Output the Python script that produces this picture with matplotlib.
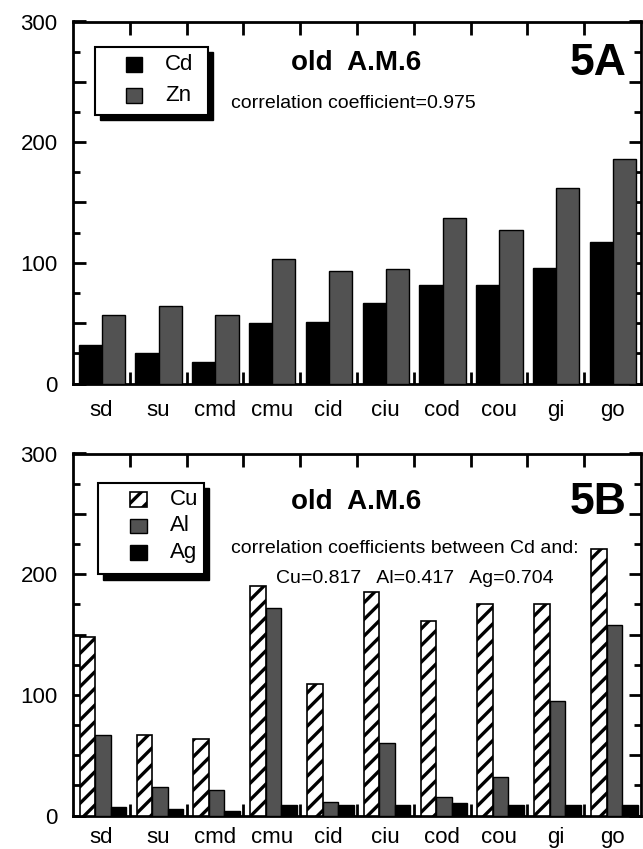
import matplotlib
matplotlib.use("Agg")
import matplotlib.pyplot as plt
from matplotlib.patches import Rectangle
from matplotlib.ticker import MultipleLocator, FixedLocator, NullFormatter, FuncFormatter
import numpy as np

plt.rcParams['font.family'] = ['Liberation Sans', 'DejaVu Sans']
plt.rcParams['hatch.linewidth'] = 2.4

categories = ["sd", "su", "cmd", "cmu", "cid", "ciu", "cod", "cou", "gi", "go"]

# Panel 5A
cd = [32, 25, 18, 50, 51, 67, 82, 82, 96, 117]
zn = [57, 64, 57, 103, 93, 95, 137, 127, 162, 186]

# Panel 5B
cu = [148, 67, 63, 190, 109, 185, 161, 175, 175, 221]
al = [67, 24, 21, 172, 11, 60, 15, 32, 95, 158]
ag = [7, 5.5, 4, 8.5, 9, 9, 10, 9, 9, 9]

ylabel_step = 100

BLACK = dict(facecolor="black", edgecolor="black", linewidth=1.0)
GRAY = dict(facecolor="#525252", edgecolor="black", linewidth=1.0)
HATCH = dict(facecolor="white", edgecolor="black", linewidth=1.2, hatch="//")

fig = plt.figure(figsize=(6.43, 8.49), dpi=100)
W = 643.0
H = 849.0
axA = fig.add_axes([73 / W, 1 - 383.5 / H, 568 / W, 362 / H])
axB = fig.add_axes([73 / W, 1 - 815.5 / H, 568 / W, 362 / H])

x = np.arange(len(categories))


def ylab(v, pos):
    return "%d" % v if abs(v % ylabel_step) < 1e-6 else ""


def style_axis(ax, xpad):
    ax.set_xlim(0, len(categories))
    ax.set_ylim(0, 300)
    for s in ax.spines.values():
        s.set_linewidth(2.0)
        s.set_color("black")
    ax.yaxis.set_major_locator(MultipleLocator(50))
    ax.yaxis.set_major_formatter(FuncFormatter(ylab))
    ax.yaxis.set_minor_locator(MultipleLocator(25))
    ax.tick_params(axis="y", which="major", direction="in", length=9, width=2,
                   labelsize=16, pad=11, left=True, right=True)
    ax.tick_params(axis="y", which="minor", direction="in", length=5, width=2,
                   left=True, right=True)
    ax.xaxis.set_major_locator(FixedLocator(np.arange(1, len(categories))))
    ax.xaxis.set_major_formatter(NullFormatter())
    ax.xaxis.set_minor_locator(FixedLocator(x + 0.5))
    ax.set_xticklabels(categories, minor=True)
    ax.tick_params(axis="x", which="major", direction="in", length=9, width=2,
                   top=True, bottom=True)
    ax.tick_params(axis="x", which="minor", length=0, labelsize=16, pad=xpad)


# ---- Panel A ----
wA = 0.41
axA.bar(x + 0.507 - wA / 2, cd, width=wA, zorder=3, **BLACK)
axA.bar(x + 0.507 + wA / 2, zn, width=wA, zorder=3, **GRAY)
style_axis(axA, 12)

# ---- Panel B ----
wB = 0.274
cB = x + 0.53
axB.bar(cB - wB, cu, width=wB, zorder=3, **HATCH)
axB.bar(cB, al, width=wB, zorder=3, **GRAY)
axB.bar(cB + wB, ag, width=wB, zorder=3, **BLACK)
style_axis(axB, 8)


def legend_box(ax, x0, x1, y0, y1, entries, sw_x0, sw_x1, sw_h, txt_x):
    dx, dy = 0.09, 4.5
    ax.add_patch(Rectangle((x0 + dx, y0 - dy), x1 - x0, y1 - y0, facecolor="black",
                           edgecolor="black", zorder=6))
    ax.add_patch(Rectangle((x0, y0), x1 - x0, y1 - y0, facecolor="white",
                           edgecolor="black", linewidth=1.5, zorder=7))
    for label, yc, st in entries:
        ax.add_patch(Rectangle((sw_x0, yc - sw_h / 2), sw_x1 - sw_x0, sw_h, zorder=8, **st))
        ax.text(txt_x, yc, label, fontsize=16, va="center", ha="left", zorder=9)


legend_box(axA, 0.387, 2.374, 222.5, 279,
           [("Cd", 264, BLACK), ("Zn", 239, GRAY)],
           0.94, 1.21, 12.5, 1.62)
legend_box(axB, 0.445, 2.30, 200, 275.8,
           [("Cu", 262, HATCH), ("Al", 240, GRAY), ("Ag", 218, BLACK)],
           1.0, 1.296, 12, 1.71)

# Texts panel A
axA.text(3.83, 266, "old  A.M.6", fontsize=20, fontweight="bold", ha="left", va="center", zorder=9)
axA.text(9.74, 265, "5A", fontsize=32, fontweight="bold", ha="right", va="center", zorder=9)
axA.text(2.79, 232, "correlation coefficient=0.975", fontsize=14, ha="left", va="center", zorder=9)

# Texts panel B
axB.text(3.83, 259.5, "old  A.M.6", fontsize=20, fontweight="bold", ha="left", va="center", zorder=9)
axB.text(9.74, 259, "5B", fontsize=32, fontweight="bold", ha="right", va="center", zorder=9)
axB.text(2.79, 221, "correlation coefficients between Cd and:", fontsize=14, ha="left", va="center", zorder=9)
axB.text(3.58, 196, "Cu=0.817   Al=0.417   Ag=0.704", fontsize=14, ha="left", va="center", zorder=9)

fig.savefig("out.png", dpi=100)
